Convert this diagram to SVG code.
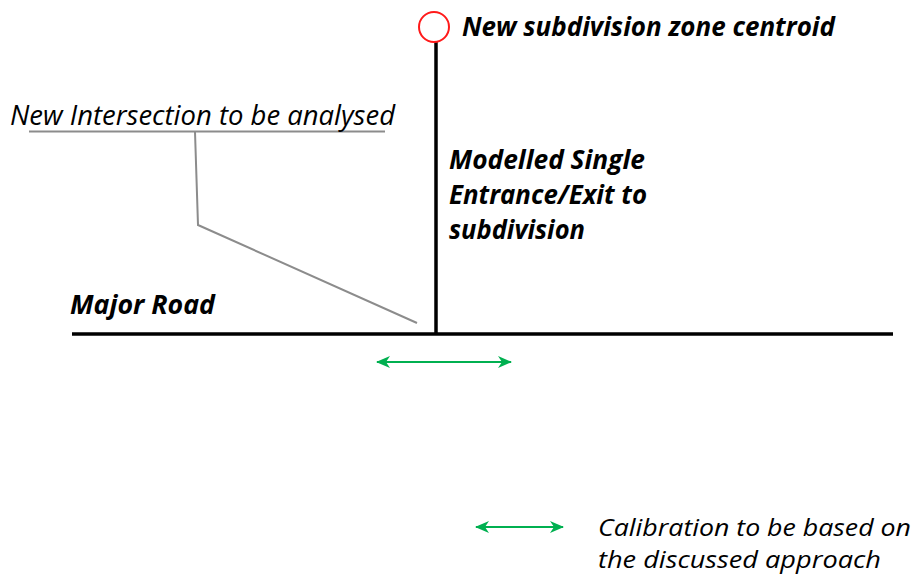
<svg xmlns="http://www.w3.org/2000/svg" width="915" height="576" viewBox="0 0 915 576">
  <style>
    .lbl { font-family: "Open Sans", "Liberation Sans", sans-serif; font-style: italic; font-size: 27px; fill: #000; }
    .bold { font-weight: bold; }
    .small { font-size: 24px; }
    .road { stroke: #000; stroke-width: 3.5; fill: none; }
    .leader { stroke: #8c8c8c; stroke-width: 2; fill: none; }
    .calib { stroke: #00b050; stroke-width: 2; fill: none; marker-start: url(#head); marker-end: url(#head); }
  </style>
  <defs>
    <marker id="head" viewBox="0 0 14 12" refX="13" refY="6" markerWidth="14" markerHeight="12" markerUnits="userSpaceOnUse" orient="auto-start-reverse">
      <path d="M0,0 L14,6 L0,12 L4,6 Z" fill="#00b050"/>
    </marker>
  </defs>

  <g id="connectors">
    <line class="road" x1="72" y1="334" x2="893" y2="334"/>
    <line class="road" x1="436" y1="42" x2="436" y2="334"/>
    <line class="leader" x1="29" y1="131.5" x2="385" y2="131.5"/>
    <polyline class="leader" points="195,132 198,225 417,323"/>
    <line class="calib" x1="377" y1="362" x2="511" y2="362"/>
  </g>

  <g id="centroid">
    <circle cx="434" cy="27" r="15" fill="#fff" stroke="#ff1a1a" stroke-width="2"/>
    <text class="lbl bold" x="462" y="36" textLength="373" lengthAdjust="spacingAndGlyphs">New subdivision zone centroid</text>
  </g>

  <g id="intersection-label">
    <text class="lbl" x="10" y="125" textLength="385" lengthAdjust="spacingAndGlyphs">New Intersection to be analysed</text>
  </g>

  <g id="entrance-label">
    <text class="lbl bold" x="449" y="169" textLength="196" lengthAdjust="spacingAndGlyphs">Modelled Single</text>
    <text class="lbl bold" x="449" y="204" textLength="198" lengthAdjust="spacingAndGlyphs">Entrance/Exit to</text>
    <text class="lbl bold" x="449" y="239" textLength="136" lengthAdjust="spacingAndGlyphs">subdivision</text>
  </g>

  <g id="major-road-label">
    <text class="lbl bold" x="70" y="314" textLength="145" lengthAdjust="spacingAndGlyphs">Major Road</text>
  </g>

  <g id="legend">
    <line class="calib" x1="476" y1="527" x2="563" y2="527"/>
    <text class="lbl small" x="598" y="536" textLength="313" lengthAdjust="spacingAndGlyphs">Calibration to be based on</text>
    <text class="lbl small" x="598" y="568" textLength="283" lengthAdjust="spacingAndGlyphs">the discussed approach</text>
  </g>
</svg>
